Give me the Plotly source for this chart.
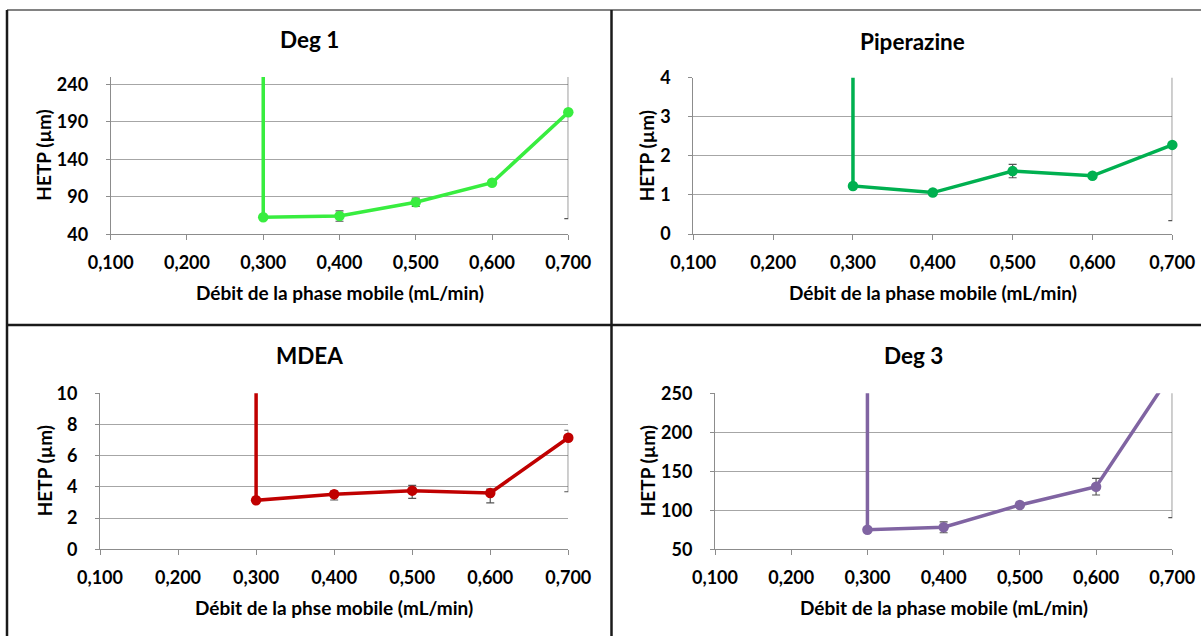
import plotly.graph_objects as go

W, H = 1201, 636

# Flow rate of the mobile phase (mL/min); the first row is the off-scale start point
debit = [0.300, 0.300, 0.400, 0.500, 0.600, 0.700]

deg1_hetp = [560.0, 62.7, 64.4, 82.7, 108.8, 203.0]
deg1_err = [0.0, 2.0, 7.0, 5.6, 3.0, 142.0]

pip_hetp = [9.5, 1.23, 1.06, 1.61, 1.49, 2.28]
pip_err = [0.0, 0.05, 0.05, 0.17, 0.05, 1.94]

mdea_hetp = [24.0, 3.14, 3.53, 3.76, 3.61, 7.15]
mdea_err_plus = [0.0, 0.10, 0.20, 0.34, 0.25, 0.48]
mdea_err_minus = [0.0, 0.10, 0.37, 0.49, 0.64, 3.46]

deg3_hetp = [640.0, 75.1, 78.2, 106.8, 130.3, 277.0]
deg3_err = [0.0, 2.0, 7.0, 3.0, 10.7, 186.5]

x_ticks = [0.1, 0.2, 0.3, 0.4, 0.5, 0.6, 0.7]

FONT = "Lato"


def fx(px):
    return px / W


def fy(py):
    return 1 - py / H


panels = [
    dict(title="Deg 1", y=deg1_hetp, plus=deg1_err, minus=deg1_err, color="#38ED3F",
         yrange=[40, 250], tick0=40, dtick=50,
         xtitle="Débit de la phase mobile (mL/min)",
         box=(110.7, 568.3, 77.0, 234.3), title_xy=(309, 40), ytitle_x=44),
    dict(title="Piperazine", y=pip_hetp, plus=pip_err, minus=pip_err, color="#00B050",
         yrange=[0, 4], tick0=0, dtick=1,
         xtitle="Débit de la phase mobile (mL/min)",
         box=(693.3, 1172.3, 77.7, 234.0), title_xy=(912, 41), ytitle_x=646.5),
    dict(title="MDEA", y=mdea_hetp, plus=mdea_err_plus, minus=mdea_err_minus, color="#C00000",
         yrange=[0, 10], tick0=0, dtick=2,
         xtitle="Débit de la phse mobile (mL/min)",
         box=(100.0, 568.3, 393.3, 549.3), title_xy=(309, 355), ytitle_x=44),
    dict(title="Deg 3", y=deg3_hetp, plus=deg3_err, minus=deg3_err, color="#8064A2",
         yrange=[50, 250], tick0=50, dtick=50,
         xtitle="Débit de la phase mobile (mL/min)",
         box=(715.0, 1172.3, 393.3, 549.3), title_xy=(913, 355), ytitle_x=647),
]

fig = go.Figure()
annotations = []
layout_axes = {}

for i, p in enumerate(panels, start=1):
    xa = "x" if i == 1 else f"x{i}"
    ya = "y" if i == 1 else f"y{i}"
    x0, x1, y0, y1 = p["box"]

    # line + error bars, clipped to the plot area
    fig.add_trace(go.Scatter(
        x=debit, y=p["y"], mode="lines", xaxis=xa, yaxis=ya,
        line=dict(color=p["color"], width=3.5),
        error_y=dict(type="data", symmetric=False, array=p["plus"], arrayminus=p["minus"],
                     color="#555555", thickness=1.2, width=4),
        cliponaxis=True, showlegend=False, hoverinfo="skip",
    ))
    # markers for the points inside the vertical range, left unclipped at the edges
    lo, hi = p["yrange"]
    mx = [x for x, v in zip(debit, p["y"]) if lo <= v <= hi]
    my = [v for v in p["y"] if lo <= v <= hi]
    fig.add_trace(go.Scatter(
        x=mx, y=my, mode="markers", xaxis=xa, yaxis=ya,
        marker=dict(color=p["color"], size=10.5),
        cliponaxis=False, showlegend=False,
    ))

    key = "" if i == 1 else str(i)
    layout_axes[f"xaxis{key}"] = dict(
        domain=[fx(x0), fx(x1)], range=[0.1, 0.7], anchor=ya, automargin=False,
        tickvals=x_ticks, tickformat=".3f",
        showgrid=False, zeroline=False,
        showline=True, linecolor="#8c8c8c", linewidth=1,
        ticks="outside", ticklen=5, tickcolor="#8c8c8c",
        ticklabelstandoff=7,
        tickfont=dict(family=FONT, size=18, weight="bold", color="black"),
    )
    layout_axes[f"yaxis{key}"] = dict(
        domain=[fy(y1), fy(y0)], range=p["yrange"], anchor=xa, automargin=False,
        tick0=p["tick0"], dtick=p["dtick"],
        showgrid=True, gridcolor="#a6a6a6", gridwidth=1, zeroline=False,
        showline=True, linecolor="#8c8c8c", linewidth=1,
        ticks="outside", ticklen=4, tickcolor="#8c8c8c",
        ticklabelstandoff=14,
        tickfont=dict(family=FONT, size=18, weight="bold", color="black"),
    )

    tx, ty = p["title_xy"]
    annotations.append(dict(
        text=p["title"], x=fx(tx), y=fy(ty), xref="paper", yref="paper",
        xanchor="center", yanchor="middle", showarrow=False,
        font=dict(family=FONT, size=22.5, weight="bold", color="black"),
    ))
    annotations.append(dict(
        text=p["xtitle"], x=fx((x0 + x1) / 2), y=fy(y1 + 58), xref="paper", yref="paper",
        xanchor="center", yanchor="middle", showarrow=False,
        font=dict(family=FONT, size=19, weight="bold", color="black"),
    ))
    annotations.append(dict(
        text="HETP (µm)", x=fx(p["ytitle_x"]), y=fy((y0 + y1) / 2), xref="paper", yref="paper",
        xanchor="center", yanchor="middle", showarrow=False, textangle=-90,
        font=dict(family=FONT, size=19, weight="bold", color="black"),
    ))

# frame lines around and between the four charts
shapes = [
    dict(type="line", xref="paper", yref="paper", x0=fx(7), x1=1, y0=fy(10), y1=fy(10),
         line=dict(color="#595959", width=1.5)),
    dict(type="line", xref="paper", yref="paper", x0=fx(7), x1=fx(7), y0=fy(10), y1=0,
         line=dict(color="#1a1a1a", width=2.5)),
    dict(type="line", xref="paper", yref="paper", x0=fx(611.5), x1=fx(611.5), y0=fy(10), y1=0,
         line=dict(color="#1a1a1a", width=2.5)),
    dict(type="line", xref="paper", yref="paper", x0=fx(7), x1=1, y0=fy(325), y1=fy(325),
         line=dict(color="#1a1a1a", width=2.5)),
]

fig.update_layout(
    width=W, height=H, margin=dict(l=0, r=0, t=0, b=0),
    paper_bgcolor="white", plot_bgcolor="white",
    separators=", ",
    annotations=annotations, shapes=shapes,
    **layout_axes,
)

fig.write_html("out.html")
